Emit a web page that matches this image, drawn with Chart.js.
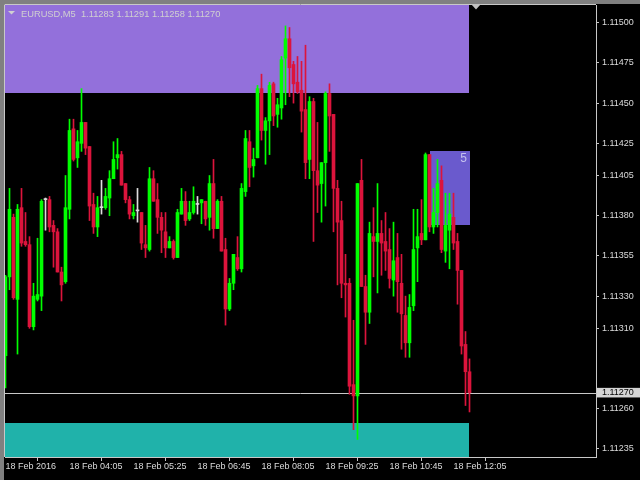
<!DOCTYPE html>
<html>
<head>
<meta charset="utf-8">
<script src="https://cdn.jsdelivr.net/npm/chart.js@4.4.1/dist/chart.umd.min.js"></script>
<style>
  html, body { margin: 0; padding: 0; background: #000; }
  canvas { display: block; }
</style>
</head>
<body>
<canvas id="chart" width="640" height="480"></canvas>
<script>
// EURUSD M5, 18 Feb 2016, bars from 02:45 to 12:25
const opens = [
  1.11293, 1.11342, 1.11379, 1.11328, 1.11385, 1.11364, 1.11362, 1.11311, 1.11328, 1.11330,
  1.11390, 1.11390, 1.11374, 1.11370, 1.11345, 1.11339, 1.11384, 1.11434, 1.11416, 1.11425,
  1.11438, 1.11423, 1.11387, 1.11373, 1.11385, 1.11385, 1.11391, 1.11403, 1.11416, 1.11418,
  1.11400, 1.11390, 1.11380, 1.11383, 1.11382, 1.11362, 1.11359, 1.11403, 1.11390, 1.11379,
  1.11370, 1.11360, 1.11364, 1.11354, 1.11381, 1.11389, 1.11378, 1.11382, 1.11387, 1.11388,
  1.11389, 1.11379, 1.11400, 1.11372, 1.11389, 1.11359, 1.11322, 1.11338, 1.11354, 1.11347,
  1.11395, 1.11426, 1.11411, 1.11416, 1.11459, 1.11433, 1.11439, 1.11462, 1.11443, 1.11447,
  1.11478, 1.11490, 1.11474, 1.11463, 1.11458, 1.11446, 1.11415, 1.11451, 1.11408, 1.11400,
  1.11413, 1.11456, 1.11443, 1.11397, 1.11377, 1.11338, 1.11338, 1.11275, 1.11268, 1.11402,
  1.11336, 1.11320, 1.11367, 1.11364, 1.11369, 1.11364, 1.11359, 1.11340, 1.11354, 1.11338,
  1.11318, 1.11301, 1.11324, 1.11360, 1.11369, 1.11365, 1.11418, 1.11373, 1.11382, 1.11402,
  1.11358, 1.11371, 1.11379, 1.11364, 1.11346, 1.11300, 1.11283
];
const highs = [
  1.11343, 1.11397, 1.11381, 1.11387, 1.11397, 1.11382, 1.11367, 1.11338, 1.11366, 1.11390,
  1.11391, 1.11392, 1.11377, 1.11372, 1.11348, 1.11405, 1.11440, 1.11440, 1.11433, 1.11459,
  1.11438, 1.11423, 1.11394, 1.11392, 1.11402, 1.11397, 1.11408, 1.11426, 1.11428, 1.11420,
  1.11400, 1.11392, 1.11387, 1.11397, 1.11382, 1.11374, 1.11410, 1.11408, 1.11400, 1.11382,
  1.11382, 1.11367, 1.11365, 1.11384, 1.11397, 1.11395, 1.11389, 1.11398, 1.11392, 1.11390,
  1.11389, 1.11405, 1.11415, 1.11390, 1.11392, 1.11366, 1.11341, 1.11356, 1.11367, 1.11400,
  1.11433, 1.11433, 1.11422, 1.11461, 1.11468, 1.11441, 1.11463, 1.11463, 1.11453, 1.11479,
  1.11498, 1.11497, 1.11476, 1.11479, 1.11476, 1.11486, 1.11454, 1.11453, 1.11438, 1.11413,
  1.11457, 1.11462, 1.11443, 1.11402, 1.11389, 1.11356, 1.11341, 1.11315, 1.11400, 1.11415,
  1.11343, 1.11376, 1.11385, 1.11400, 1.11377, 1.11382, 1.11372, 1.11376, 1.11369, 1.11356,
  1.11330, 1.11331, 1.11384, 1.11384, 1.11390, 1.11419, 1.11418, 1.11397, 1.11415, 1.11411,
  1.11394, 1.11394, 1.11394, 1.11369, 1.11346, 1.11308, 1.11291
];
const lows = [
  1.11273, 1.11334, 1.11328, 1.11294, 1.11361, 1.11361, 1.11310, 1.11309, 1.11327, 1.11321,
  1.11371, 1.11370, 1.11348, 1.11345, 1.11327, 1.11338, 1.11378, 1.11414, 1.11410, 1.11420,
  1.11418, 1.11377, 1.11369, 1.11367, 1.11381, 1.11384, 1.11380, 1.11403, 1.11409, 1.11399,
  1.11388, 1.11378, 1.11378, 1.11376, 1.11359, 1.11354, 1.11358, 1.11389, 1.11369, 1.11357,
  1.11354, 1.11360, 1.11353, 1.11354, 1.11381, 1.11374, 1.11377, 1.11381, 1.11381, 1.11375,
  1.11374, 1.11371, 1.11366, 1.11372, 1.11358, 1.11312, 1.11321, 1.11334, 1.11346, 1.11345,
  1.11392, 1.11398, 1.11404, 1.11416, 1.11427, 1.11412, 1.11418, 1.11436, 1.11435, 1.11440,
  1.11449, 1.11454, 1.11450, 1.11456, 1.11432, 1.11403, 1.11403, 1.11364, 1.11382, 1.11376,
  1.11386, 1.11420, 1.11370, 1.11337, 1.11329, 1.11317, 1.11269, 1.11247, 1.11241, 1.11336,
  1.11300, 1.11313, 1.11342, 1.11332, 1.11343, 1.11346, 1.11335, 1.11330, 1.11320, 1.11297,
  1.11292, 1.11292, 1.11321, 1.11339, 1.11362, 1.11365, 1.11370, 1.11369, 1.11373, 1.11357,
  1.11351, 1.11347, 1.11359, 1.11325, 1.11294, 1.11262, 1.11258
];
const closes = [
  1.11342, 1.11384, 1.11329, 1.11384, 1.11363, 1.11362, 1.11311, 1.11330, 1.11331, 1.11389,
  1.11390, 1.11373, 1.11370, 1.11345, 1.11337, 1.11385, 1.11433, 1.11415, 1.11426, 1.11438,
  1.11422, 1.11386, 1.11373, 1.11385, 1.11385, 1.11392, 1.11403, 1.11415, 1.11418, 1.11399,
  1.11390, 1.11381, 1.11382, 1.11383, 1.11363, 1.11360, 1.11403, 1.11389, 1.11379, 1.11371,
  1.11360, 1.11364, 1.11354, 1.11382, 1.11389, 1.11377, 1.11382, 1.11389, 1.11387, 1.11390,
  1.11378, 1.11400, 1.11372, 1.11389, 1.11358, 1.11322, 1.11338, 1.11356, 1.11347, 1.11397,
  1.11428, 1.11410, 1.11415, 1.11459, 1.11433, 1.11439, 1.11461, 1.11442, 1.11449, 1.11477,
  1.11490, 1.11472, 1.11462, 1.11457, 1.11445, 1.11413, 1.11451, 1.11408, 1.11399, 1.11413,
  1.11456, 1.11442, 1.11397, 1.11376, 1.11338, 1.11337, 1.11274, 1.11268, 1.11400, 1.11336,
  1.11320, 1.11369, 1.11364, 1.11369, 1.11363, 1.11358, 1.11341, 1.11352, 1.11339, 1.11319,
  1.11301, 1.11323, 1.11359, 1.11367, 1.11365, 1.11418, 1.11373, 1.11382, 1.11400, 1.11359,
  1.11374, 1.11381, 1.11363, 1.11346, 1.11299, 1.11283, 1.11270
];

const tickBars = [0, 16, 32, 48, 64, 80, 96, 112];
const tickLabels = ['18 Feb 2016', '18 Feb 04:05', '18 Feb 05:25', '18 Feb 06:45',
                    '18 Feb 08:05', '18 Feb 09:25', '18 Feb 10:45', '18 Feb 12:05'];
const priceTicks = [1.11500, 1.11475, 1.11450, 1.11425, 1.11405, 1.11380, 1.11355,
                    1.11330, 1.11310, 1.11270, 1.11260, 1.11235];

// zones: [bottom price, top price]
const upperZone = [1.11456, 1.11511];
const lowerZone = [1.11230, 1.11251];
const smallBox = [1.11374, 1.11420];
const smallBoxBars = [106, 116];
const zoneEndBar = 115.9;
const boxLabel = '5';

const title = 'EURUSD,M5  1.11283 1.11291 1.11258 1.11270';
const lastPrice = closes[closes.length - 1];

const UP = '#00ff00', DOWN = '#dc143c', DOJI = '#dcdcdc';
const TXT = '#dcdcdc', FRAME = '#c8c8c8';
const FONT = "'Liberation Sans', Arial, sans-serif";

const idx = opens.map((o, i) => i);
const colors = idx.map(i => closes[i] > opens[i] ? UP : (closes[i] < opens[i] ? DOWN : DOJI));

const isLast = v => Math.abs(v - lastPrice) < 1e-7;

/* frame, zones, title */
const mtPlugin = {
  id: 'mt',
  beforeDraw(chart) {
    const c = chart.ctx;
    const a = chart.chartArea;
    c.save();
    c.fillStyle = '#000';
    c.fillRect(0, 0, chart.width, chart.height);
    c.fillStyle = '#808080';
    c.fillRect(0, 0, chart.width, 4);
    c.fillRect(0, 0, 4, chart.height);
    c.strokeStyle = FRAME;
    c.lineWidth = 1;
    c.beginPath();
    c.moveTo(4.5, 4.5); c.lineTo(a.right, 4.5);
    c.moveTo(4.5, 4.5); c.lineTo(4.5, a.bottom);
    c.stroke();
    c.restore();
  },
  beforeDatasetsDraw(chart) {
    const c = chart.ctx;
    const a = chart.chartArea;
    const x = chart.scales.x, y = chart.scales.y;
    const px = v => Math.round(x.getPixelForValue(v));
    const py = v => Math.round(y.getPixelForValue(v));
    c.save();
    c.fillStyle = '#9370db';
    c.fillRect(a.left, py(upperZone[1]), px(zoneEndBar) - a.left, py(upperZone[0]) - py(upperZone[1]));
    c.fillStyle = '#20b2aa';
    c.fillRect(a.left, py(lowerZone[1]), px(zoneEndBar) - a.left, py(lowerZone[0]) - py(lowerZone[1]));
    const bx0 = px(smallBoxBars[0]), bx1 = px(smallBoxBars[1]);
    c.fillStyle = '#6a5acd';
    c.fillRect(bx0, py(smallBox[1]), bx1 - bx0, py(smallBox[0]) - py(smallBox[1]));
    c.fillStyle = '#c4c0ee';
    c.font = '12px ' + FONT;
    c.textAlign = 'right';
    c.textBaseline = 'alphabetic';
    c.fillText(boxLabel, bx1 - 3, py(smallBox[1]) + 11);
    // bid line
    c.strokeStyle = FRAME;
    c.beginPath();
    c.moveTo(a.left, py(lastPrice) + 0.5);
    c.lineTo(a.right, py(lastPrice) + 0.5);
    c.stroke();
    c.restore();
  },
  afterDraw(chart) {
    const c = chart.ctx;
    const x = chart.scales.x;
    c.save();
    c.fillStyle = '#d0d0d0';
    c.beginPath();
    c.moveTo(8, 11); c.lineTo(15, 11); c.lineTo(11.5, 14.5); c.closePath();
    c.fill();
    c.font = '9.3px ' + FONT;
    c.textAlign = 'left';
    c.textBaseline = 'alphabetic';
    c.fillText(title, 21, 16.5);
    // chart shift marker
    const sx = Math.round(x.getPixelForValue(117.5));
    c.fillStyle = '#c0c0c0';
    c.beginPath();
    c.moveTo(sx - 5, 4); c.lineTo(sx + 5, 4); c.lineTo(sx, 9.5); c.closePath();
    c.fill();
    c.restore();
  }
};

new Chart(document.getElementById('chart'), {
  type: 'bar',
  data: {
    datasets: [
      {
        label: 'body',
        data: idx.map(i => ({ x: i, y: [opens[i], closes[i]] })),
        backgroundColor: colors,
        borderWidth: 0,
        barThickness: 3,
        minBarLength: 1,
        grouped: false,
        order: 1
      },
      {
        label: 'wick',
        data: idx.map(i => ({ x: i, y: [lows[i], highs[i]] })),
        backgroundColor: colors,
        borderWidth: 0,
        barThickness: 1,
        grouped: false,
        order: 2
      }
    ]
  },
  options: {
    responsive: false,
    animation: false,
    devicePixelRatio: 1,
    layout: { padding: { left: 5, top: 5, right: 0, bottom: 0 }, autoPadding: false },
    plugins: { legend: { display: false }, tooltip: { enabled: false } },
    scales: {
      x: {
        type: 'linear',
        min: -0.125,
        max: 147.625,
        offset: false,
        afterBuildTicks: s => { s.ticks = tickBars.map(v => ({ value: v })); },
        afterFit: s => { s.height = 23; },
        ticks: {
          callback: (v, i) => tickLabels[i],
          align: 'start',
          autoSkip: false,
          maxRotation: 0,
          padding: 1,
          color: TXT,
          font: { family: FONT, size: 9, lineHeight: 1 }
        },
        grid: { drawOnChartArea: false, tickLength: 4, color: FRAME },
        border: { color: FRAME }
      },
      y: {
        position: 'right',
        min: 1.11230,
        max: 1.11511,
        afterBuildTicks: s => { s.ticks = priceTicks.map(v => ({ value: v })); },
        afterFit: s => { s.width = 44; },
        ticks: {
          callback: v => v.toFixed(5),
          autoSkip: false,
          padding: 3,
          color: ctx => isLast(ctx.tick.value) ? '#000' : TXT,
          showLabelBackdrop: true,
          backdropColor: ctx => isLast(ctx.tick.value) ? '#d4d4d4' : 'rgba(0,0,0,0)',
          backdropPadding: { left: 5, right: 8, top: 3, bottom: 3 },
          font: { family: FONT, size: 9, lineHeight: 0.4 }
        },
        grid: { drawOnChartArea: false, tickLength: 3, color: FRAME },
        border: { color: FRAME }
      }
    }
  },
  plugins: [mtPlugin]
});
</script>
</body>
</html>
